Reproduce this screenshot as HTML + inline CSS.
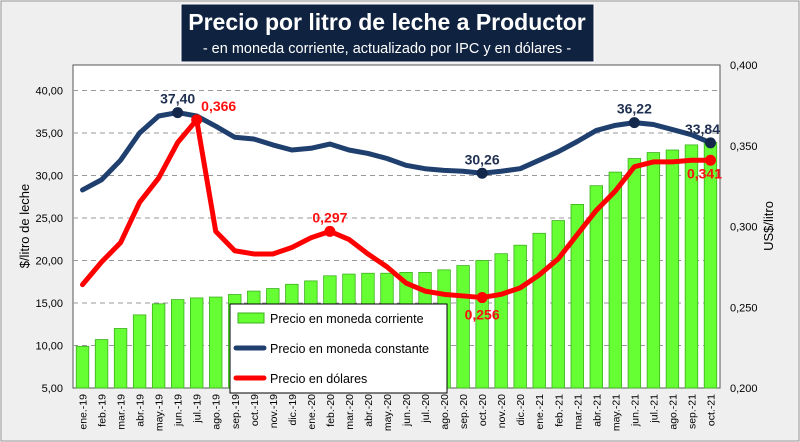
<!DOCTYPE html>
<html><head><meta charset="utf-8"><style>
body{margin:0;background:#f0f0f0;font-family:"Liberation Sans",sans-serif}
svg{display:block}
</style></head><body>
<svg id="c" width="800" height="442" xmlns="http://www.w3.org/2000/svg">
<rect x="1" y="1" width="798" height="440" fill="#efefef" stroke="#9a9a9a"/>
<rect x="73" y="65" width="647" height="323" fill="#fff" stroke="#555" stroke-width="1"/>
<g id="grid"></g><g id="bars"></g><g id="lines"></g><g id="axes"></g>
<g>
<rect x="181" y="4" width="413" height="58" fill="#0f2240" stroke="#fff" stroke-width="1"/>
<text x="387" y="30" text-anchor="middle" fill="#fff" font-size="23" font-weight="bold">Precio por litro de leche a Productor</text>
<text x="387" y="53" text-anchor="middle" fill="#fff" font-size="14.5">- en moneda corriente, actualizado por IPC y en dólares -</text>
</g>
<text transform="translate(29,226) rotate(-90)" text-anchor="middle" font-size="13" fill="#000">$/litro de leche</text>
<text transform="translate(773,226) rotate(-90)" text-anchor="middle" font-size="13" fill="#000">US$/litro</text>
<g>
<rect x="230" y="304" width="217" height="89" fill="#fff" stroke="#000"/>
<g><rect x="238" y="313" width="26" height="10" fill="#66ff33" stroke="#3cb01c"/><text x="270" y="323" font-size="12.5">Precio en moneda corriente</text></g>
<g><line x1="236" y1="348" x2="264" y2="348" stroke="#1f3f6e" stroke-width="5" stroke-linecap="round"/><text x="270" y="353" font-size="12.5">Precio en moneda constante</text></g>
<g><line x1="236" y1="378" x2="264" y2="378" stroke="#ff0000" stroke-width="5" stroke-linecap="round"/><text x="270" y="383" font-size="12.5">Precio en dólares</text></g>
</g>
</svg>
<script>
const categories=["ene.-19","feb.-19","mar.-19","abr.-19","may.-19","jun.-19","jul.-19","ago.-19","sep.-19","oct.-19","nov.-19","dic.-19","ene.-20","feb.-20","mar.-20","abr.-20","may.-20","jun.-20","jul.-20","ago.-20","sep.-20","oct.-20","nov.-20","dic.-20","ene.-21","feb.-21","mar.-21","abr.-21","may.-21","jun.-21","jul.-21","ago.-21","sep.-21","oct.-21"];
const corriente=[9.9,10.7,12.0,13.6,14.9,15.4,15.6,15.7,16.0,16.4,16.7,17.2,17.6,18.2,18.4,18.5,18.5,18.6,18.6,18.9,19.4,20.0,20.8,21.8,23.2,24.7,26.6,28.8,30.4,32.0,32.7,33.0,33.6,33.9];
const constante=[28.3,29.5,31.8,35.0,37.0,37.4,37.0,35.8,34.5,34.3,33.6,33.0,33.2,33.7,33.0,32.6,32.0,31.2,30.8,30.6,30.5,30.26,30.5,30.8,31.8,32.8,34.0,35.3,35.9,36.22,36.0,35.4,34.8,33.84];
const dolares=[0.264,0.278,0.290,0.315,0.330,0.352,0.366,0.297,0.285,0.283,0.283,0.287,0.293,0.297,0.292,0.283,0.275,0.265,0.260,0.258,0.257,0.256,0.258,0.262,0.270,0.280,0.295,0.310,0.322,0.337,0.340,0.340,0.341,0.341];
const leftTicks=[5,10,15,20,25,30,35,40];
const rightTicks=[0.2,0.25,0.3,0.35,0.4];
const constLabels=[[5,"37,40"],[21,"30,26"],[29,"36,22"],[33,"33,84"]];
const dolLabels=[[6,"0,366",-1],[13,"0,297",-1],[21,"0,256",1],[33,"0,341",1]];
const NS="http://www.w3.org/2000/svg";
const X0=73,W=647,YT=65,YB=388;
const bw=W/categories.length;
const xs=i=>X0+bw*(i+0.5);
const yl=v=>YB-(v-5)/35*(YB-90.5);
const yr=v=>YB-(v-0.2)/0.2*(YB-YT);
function mk(tag,at,parent){const e=document.createElementNS(NS,tag);for(const k in at)e.setAttribute(k,at[k]);document.getElementById(parent).appendChild(e);return e;}
leftTicks.forEach(t=>{
 if(t>5){const g=mk("line",{x1:X0,x2:X0+W,y1:yl(t),y2:yl(t),stroke:"#999","stroke-dasharray":"5,4"},"grid");
 
 }
 const l=mk("text",{x:63,y:yl(t)+4,"text-anchor":"end","font-size":"11"},"axes");l.textContent=t.toFixed(2).replace(".",",");
 
 
});
rightTicks.forEach(t=>{
 const l=mk("text",{x:730,y:yr(t)+4,"font-size":"11"},"axes");l.textContent=t.toFixed(3).replace(".",",");
 
 
});
categories.forEach((c,i)=>{
 const b=mk("rect",{x:xs(i)-bw*0.33,y:yl(corriente[i]),width:bw*0.66,height:YB-yl(corriente[i]),fill:"#66ff33",stroke:"#3cb01c","stroke-width":"0.8"},"bars");
 
 
 const t=mk("text",{transform:`translate(${xs(i)+4},394) rotate(-90)`,"text-anchor":"end","font-size":"10.5"},"axes");t.textContent=c;
 
 
});
const p1=mk("polyline",{points:constante.map((v,i)=>xs(i)+","+yl(v)).join(" "),fill:"none",stroke:"#1f3f6e","stroke-width":"5","stroke-linejoin":"round","stroke-linecap":"round"},"lines");


const p2=mk("polyline",{points:dolares.map((v,i)=>xs(i)+","+yr(v)).join(" "),fill:"none",stroke:"#ff0000","stroke-width":"5","stroke-linejoin":"round","stroke-linecap":"round"},"lines");


constLabels.forEach(([i,s])=>{
 const d=mk("circle",{cx:xs(i),cy:yl(constante[i]),r:5.5,fill:"#13284a"},"lines");
 
 
 const t=mk("text",{x:xs(i)-(i==33?8:0),y:yl(constante[i])-9,"text-anchor":"middle","font-size":"14","font-weight":"bold",fill:"#1f3050"},"lines");t.textContent=s;
 
 
});
dolLabels.forEach(([i,s,dir])=>{
 const d=mk("circle",{cx:xs(i),cy:yr(dolares[i]),r:5.5,fill:"#ff0000"},"lines");
 
 
 const t=mk("text",{x:xs(i)+(i==6?22:(i==33?-6:0)),y:yr(dolares[i])+(dir<0?-9:(i==33?18:22)),"text-anchor":"middle","font-size":"14","font-weight":"bold",fill:"#ff1010"},"lines");t.textContent=s;
 
 
});
</script>
</body></html>
